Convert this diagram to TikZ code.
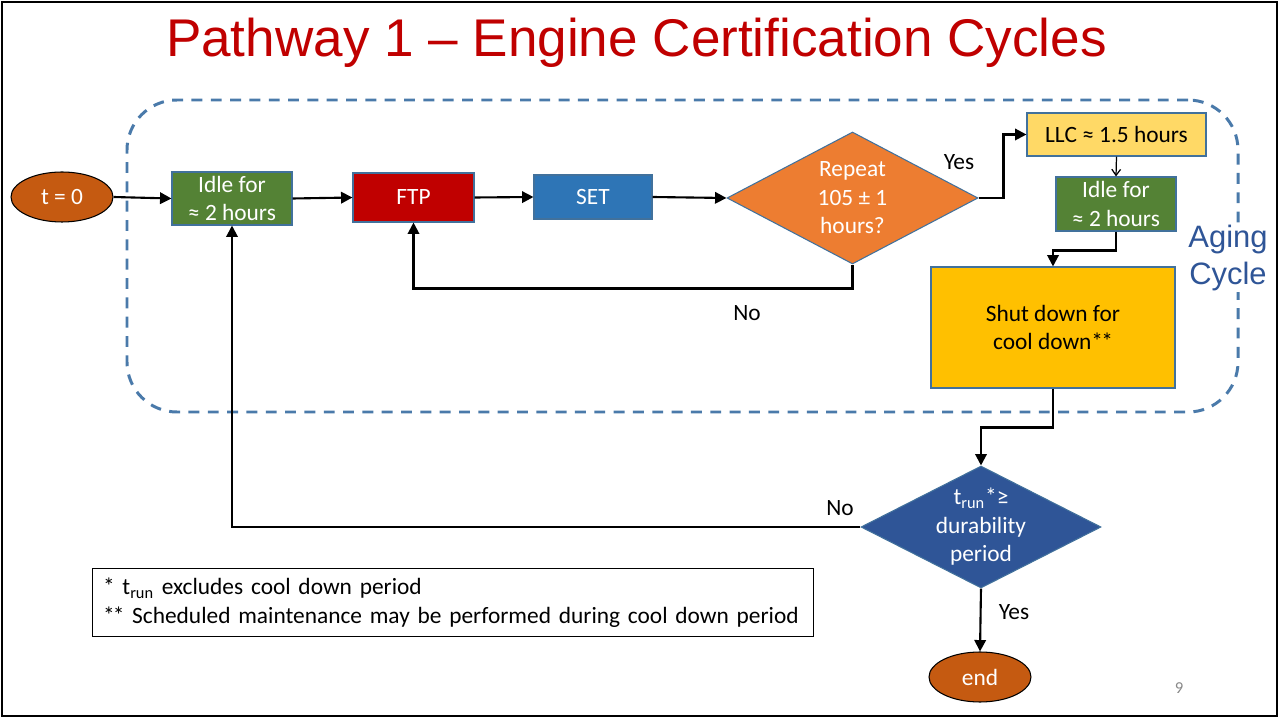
\documentclass[tikz,border=0pt]{standalone}
\usepackage{fontspec}
\setmainfont{Carlito}
\newfontfamily\arialf{Liberation Sans}
\usetikzlibrary{shapes.geometric,arrows.meta}
\newdimen\pxu \pxu=0.02cm
\definecolor{cbrown}{RGB}{197,90,17}
\definecolor{cgreen}{RGB}{84,130,53}
\definecolor{cred}{RGB}{192,0,0}
\definecolor{cblue}{RGB}{46,117,182}
\definecolor{corange}{RGB}{237,125,49}
\definecolor{cyellow}{RGB}{255,217,102}
\definecolor{cgold}{RGB}{255,192,0}
\definecolor{cnavy}{RGB}{47,85,151}
\definecolor{cedge}{RGB}{65,113,156}
\definecolor{cdash}{RGB}{74,122,170}
\definecolor{cpage}{RGB}{137,137,137}
\newcommand{\dstar}{*\kern-0.08em*}
\begin{document}
\begin{tikzpicture}[x=0.02cm,y=-0.02cm,
  every node/.style={font=\fontsize{13.3}{16.2}\selectfont},
  box/.style={draw=cedge, line width=0.6pt, inner sep=0pt, align=center, text=white},
  term/.style={ellipse, draw=black, line width=0.6pt, fill=cbrown, text=white, inner sep=0pt, minimum width=102\pxu, minimum height=50\pxu},
  dec/.style={diamond, draw=cedge, line width=0.6pt, text=white, align=center, inner sep=0pt},
  conn/.style={draw=black, line width=1.2pt, -{Triangle[length=6.5pt,width=6.5pt]}},
  thinconn/.style={draw=black, line width=0.7pt, -{Straight Barb[length=3.5pt,width=5pt]}},
  lbl/.style={text=black, inner sep=0pt}
]
\useasboundingbox (0,0) rectangle (1279,719);
\fill[white] (0,0) rectangle (1279,719);
\draw[black, line width=1.2pt] (2,2) rectangle (1277,716);

% title
\node[font=\arialf\fontsize{30.2}{32}\selectfont, text=cred, anchor=base] (title) at (636.5,57) {Pathway 1 – Engine Certification Cycles};

% aging cycle dashed region
\node[draw=cdash, line width=1.7pt, dash pattern=on 6.2pt off 4.8pt, rounded corners=50\pxu,
      minimum width=1111\pxu, minimum height=312\pxu, inner sep=0pt] (aging) at (682.5,256) {};
\node[fill=white, text=cnavy, align=center, inner sep=1pt,
      font=\arialf\fontsize{17.6}{20.5}\selectfont] (agingtxt) at (1228,258) {Aging\\Cycle};

% nodes
\node[term] (t0) at (62,197) {t = 0};
\node[box, fill=cgreen, minimum width=120\pxu, minimum height=53\pxu] (idle1) at (232,198.5) {Idle for\\≈ 2 hours};
\node[box, fill=cred, minimum width=121\pxu, minimum height=49\pxu] (ftp) at (413.5,197.5) {FTP};
\node[box, fill=cblue, minimum width=118\pxu, minimum height=44\pxu] (set) at (593,197) {SET};
\node[dec, fill=corange, aspect=1.9, minimum width=251\pxu, minimum height=132\pxu] (rep) at (852.5,198) {Repeat\\105 ± 1\\hours?};
\node[box, fill=cyellow, text=black, minimum width=179\pxu, minimum height=43\pxu] (llc) at (1116.5,134.5) {LLC ≈ 1.5 hours};
\node[box, fill=cgreen, minimum width=120\pxu, minimum height=54\pxu] (idle2) at (1116,204) {Idle for\\≈ 2 hours};
\node[box, fill=cgold, text=black, minimum width=244\pxu, minimum height=121\pxu] (shut) at (1053,327.5) {Shut down for\\cool down\dstar};
\node[dec, fill=cnavy, aspect=1.97, inner sep=-3\pxu, minimum width=240\pxu, minimum height=122\pxu] (dur) at (981,527) {t\textsubscript{run}*≥\\durability\\period};
\node[term] (end) at (980,677) {end};

% note box
\node[draw=black, line width=0.6pt, anchor=north west, minimum width=721\pxu, minimum height=68\pxu,
      text width=700\pxu, inner xsep=10\pxu, inner ysep=0pt, align=left,
      font=\fontsize{13.3}{16.2}\selectfont] (note) at (92,568)
  {* t\textsubscript{run} excludes cool down period\\\relax\dstar{} Scheduled maintenance may be performed during cool down period};

% connectors
\draw[conn] (t0.east) -- (idle1.west);
\draw[conn] (idle1.east) -- (ftp.west);
\draw[conn] (ftp.east) -- (set.west);
\draw[conn] (set.east) -- (rep.west);
\draw[conn] (rep.east) -- ++(25,0) |- (llc.west);
\draw[thinconn] (llc.south) -- (idle2.north);
\draw[conn] (idle2.south) -- ++(0,19) -| (shut.north);
\draw[conn] (rep.south) -- ++(0,24) -| (ftp.south);
\draw[conn] (shut.south) -- ++(0,39) -| (dur.north);
\draw[conn] (dur.west) -| (idle1.south);
\draw[conn] (dur.south) -- (end.north);

% labels
\node[lbl] (yes1) at (959,162) {Yes};
\node[lbl] (no1) at (747,313) {No};
\node[lbl] (no2) at (840,508) {No};
\node[lbl] (yes2) at (1014,612) {Yes};
\node[text=cpage, font=\fontsize{9.5}{11}\selectfont] (pg) at (1179,688) {9};
\end{tikzpicture}
\end{document}
